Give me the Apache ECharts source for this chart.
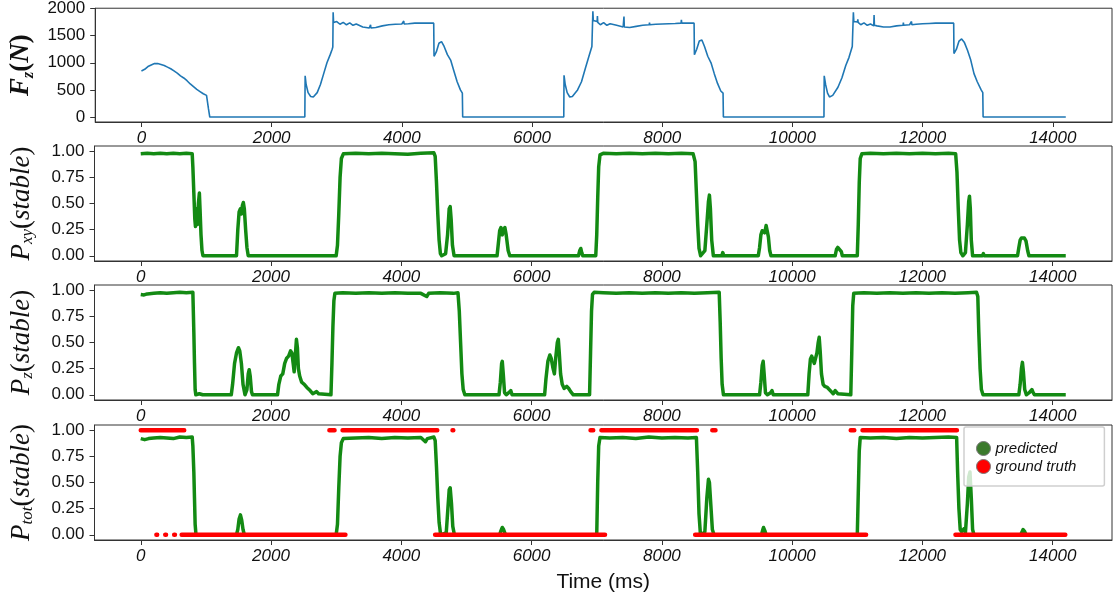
<!DOCTYPE html>
<html>
<head>
<meta charset="utf-8">
<script src="https://cdn.jsdelivr.net/npm/echarts@6/dist/echarts.min.js"></script>
<style>html,body{margin:0;padding:0;background:#fff}#c{width:1120px;height:604px}</style>
</head>
<body>
<div id="c"></div>
<script>
// ---------- data (time in ms) ----------
const xTicks = [0,2000,4000,6000,8000,10000,12000,14000];
const fzTicks = [0,500,1000,1500,2000];
const pTicks = [0,0.25,0.5,0.75,1];

const fzData = [
[0,850],[50,880],[100,930],[150,960],[200,985],[250,985],[300,970],[350,950],[400,920],[450,890],[500,850],[550,810],[600,760],[650,720],[700,670],[750,610],[800,560],[850,510],[900,470],[950,430],[980,420],[1000,400],[1010,380],[1030,150],[1050,0],
[2510,0],[2515,760],[2530,600],[2560,450],[2600,380],[2640,370],[2700,450],[2750,600],[2800,800],[2850,1000],[2900,1150],[2930,1250],[2940,1290],[2945,1930],[2952,1740],[3000,1760],[3050,1710],[3100,1745],[3150,1700],[3200,1735],[3250,1690],[3300,1715],[3400,1660],[3500,1640],[3520,1700],[3525,1640],[3600,1650],[3700,1680],[3800,1700],[3900,1710],[4000,1715],[4030,1770],[4035,1715],[4100,1720],[4200,1730],[4300,1730],[4400,1730],[4490,1730],[4495,1120],[4530,1200],[4570,1360],[4610,1390],[4650,1300],[4700,1150],[4750,1050],[4800,850],[4850,650],[4900,500],[4930,440],[4935,0],
[6488,0],[6492,770],[6510,600],[6540,450],[6580,370],[6620,380],[6700,500],[6760,650],[6820,900],[6870,1100],[6920,1300],[6930,1330],[6935,1950],[6942,1780],[7000,1760],[7005,1860],[7010,1745],[7050,1700],[7100,1740],[7150,1690],[7200,1720],[7300,1690],[7400,1660],[7413,1850],[7418,1660],[7500,1650],[7600,1670],[7700,1690],[7800,1700],[7805,1740],[7810,1700],[7900,1710],[8000,1715],[8100,1720],[8200,1725],[8290,1730],[8295,1790],[8300,1730],[8400,1730],[8490,1730],[8495,1150],[8530,1250],[8570,1400],[8610,1420],[8650,1300],[8700,1120],[8750,1000],[8800,800],[8850,620],[8900,480],[8935,440],[8940,0],
[10485,0],[10489,760],[10510,600],[10540,440],[10570,370],[10620,400],[10700,550],[10760,720],[10820,950],[10870,1100],[10920,1300],[10932,1330],[10937,1930],[10944,1760],[11000,1750],[11005,1800],[11010,1745],[11050,1700],[11100,1735],[11150,1690],[11200,1715],[11250,1680],[11255,1880],[11260,1690],[11300,1680],[11400,1660],[11500,1660],[11600,1680],[11700,1690],[11705,1740],[11710,1690],[11800,1700],[11830,1760],[11835,1700],[11900,1710],[12000,1720],[12100,1725],[12200,1730],[12300,1730],[12400,1730],[12478,1730],[12482,1170],[12520,1250],[12560,1400],[12600,1440],[12640,1380],[12690,1230],[12740,1050],[12790,800],[12840,650],[12900,500],[12925,450],[12930,0],
[14200,0]
];

const pxyData = [
[0,0.975],[100,0.98],[200,0.975],[300,0.98],[400,0.975],[500,0.98],[600,0.975],[700,0.98],[790,0.975],
[800,0.85],[815,0.6],[830,0.35],[840,0.28],[850,0.45],[860,0.38],[870,0.3],[885,0.5],[900,0.6],[910,0.45],[925,0.2],[940,0.05],[955,0],
[1470,0],[1490,0.25],[1510,0.42],[1530,0.45],[1545,0.4],[1560,0.48],[1575,0.51],[1590,0.45],[1610,0.25],[1630,0.08],[1650,0],
[3000,0],[3020,0.1],[3040,0.4],[3060,0.75],[3080,0.93],[3110,0.975],[3130,0.985],[3300,0.98],[3500,0.975],[3700,0.98],[3900,0.975],[4100,0.97],[4300,0.98],[4500,0.985],[4520,0.95],
[4540,0.7],[4560,0.4],[4580,0.15],[4600,0.02],[4620,0],[4680,0.02],[4710,0.2],[4735,0.45],[4750,0.47],[4765,0.35],[4785,0.1],[4810,0],
[5470,0],[5490,0.12],[5510,0.24],[5530,0.27],[5550,0.2],[5570,0.25],[5590,0.27],[5610,0.2],[5640,0.05],[5665,0],
[6720,0],[6740,0.05],[6755,0.07],[6770,0.03],[6785,0],
[6985,0],[7000,0.2],[7015,0.55],[7030,0.85],[7050,0.965],[7100,0.98],[7300,0.975],[7500,0.98],[7700,0.975],[7900,0.98],[8100,0.975],[8300,0.98],[8480,0.975],
[8510,0.9],[8530,0.6],[8550,0.3],[8570,0.07],[8595,0],[8660,0.05],[8690,0.3],[8715,0.52],[8730,0.58],[8745,0.45],[8765,0.15],[8790,0],
[8920,0],[8935,0.03],[8950,0],
[9480,0],[9500,0.08],[9520,0.2],[9540,0.24],[9560,0.25],[9580,0.22],[9600,0.29],[9615,0.3],[9635,0.18],[9655,0.05],[9675,0],
[10660,0],[10680,0.06],[10700,0.08],[10730,0.08],[10755,0.04],[10770,0],
[11000,0],[11015,0.3],[11030,0.7],[11045,0.93],[11070,0.975],[11200,0.98],[11400,0.975],[11600,0.98],[11800,0.975],[12000,0.98],[12200,0.975],[12400,0.98],[12510,0.975],
[12530,0.8],[12550,0.45],[12570,0.15],[12590,0.03],[12620,0],[12660,0.03],[12690,0.3],[12710,0.52],[12722,0.57],[12735,0.45],[12750,0.15],[12770,0],
[12920,0],[12935,0.02],[12950,0],
[13460,0],[13480,0.08],[13500,0.15],[13520,0.17],[13545,0.16],[13565,0.17],[13590,0.14],[13615,0.05],[13635,0],
[14200,0]
];

const pzData = [
[0,0.96],[50,0.955],[100,0.965],[200,0.97],[300,0.975],[400,0.97],[500,0.975],[600,0.98],[700,0.975],[800,0.98],
[815,0.6],[825,0.3],[835,0.05],[845,0],[900,0.01],[950,0],
[1390,0],[1410,0.1],[1440,0.3],[1470,0.4],[1500,0.45],[1520,0.42],[1545,0.3],[1570,0.1],[1600,0],[1630,0.05],[1650,0.2],[1665,0.24],[1680,0.18],[1700,0.03],[1715,0],
[2100,0],[2120,0.1],[2150,0.18],[2180,0.2],[2210,0.3],[2240,0.35],[2270,0.37],[2300,0.42],[2320,0.4],[2340,0.3],[2355,0.22],[2370,0.35],[2390,0.53],[2405,0.45],[2420,0.25],[2440,0.18],[2470,0.12],[2510,0.1],[2550,0.07],[2600,0.04],[2640,0.01],[2670,0],[2700,0.03],[2730,0.01],[2760,0],
[2920,0],[2935,0.3],[2950,0.65],[2965,0.9],[2980,0.97],[3100,0.975],[3300,0.97],[3500,0.975],[3700,0.97],[3900,0.975],[4100,0.97],[4300,0.97],[4390,0.94],[4420,0.97],[4600,0.975],[4800,0.97],[4870,0.975],
[4890,0.8],[4910,0.5],[4930,0.2],[4950,0.05],[4975,0],
[5500,0],[5520,0.12],[5540,0.3],[5550,0.32],[5565,0.2],[5585,0.02],[5610,0],[5650,0.02],[5680,0.04],[5700,0],
[6200,0],[6220,0.15],[6250,0.32],[6280,0.38],[6300,0.35],[6330,0.25],[6350,0.2],[6370,0.35],[6395,0.5],[6410,0.53],[6425,0.4],[6445,0.2],[6470,0.1],[6500,0.06],[6540,0.08],[6570,0.06],[6600,0.03],[6640,0],
[6890,0],[6905,0.4],[6920,0.8],[6935,0.96],[6960,0.98],[7100,0.975],[7300,0.97],[7500,0.975],[7700,0.97],[7900,0.975],[8100,0.97],[8300,0.975],[8500,0.97],[8700,0.975],[8880,0.98],
[8895,0.7],[8910,0.35],[8925,0.1],[8945,0],
[9500,0],[9520,0.12],[9540,0.28],[9555,0.32],[9570,0.2],[9590,0.02],[9620,0],[9670,0.02],[9690,0.04],[9710,0],
[10240,0],[10260,0.2],[10280,0.34],[10300,0.37],[10320,0.38],[10340,0.3],[10360,0.35],[10380,0.4],[10400,0.5],[10415,0.55],[10430,0.42],[10450,0.2],[10475,0.1],[10500,0.08],[10540,0.07],[10570,0.06],[10600,0.03],[10630,0.01],[10660,0.04],[10680,0.05],[10700,0.01],[10720,0],
[10900,0],[10915,0.4],[10930,0.85],[10945,0.97],[11100,0.975],[11300,0.97],[11500,0.975],[11700,0.97],[11900,0.975],[12100,0.97],[12300,0.975],[12500,0.97],[12700,0.975],[12830,0.98],[12850,0.94],
[12865,0.6],[12885,0.25],[12905,0.05],[12930,0],
[13480,0],[13500,0.1],[13520,0.25],[13535,0.31],[13550,0.22],[13570,0.05],[13595,0],[13640,0.02],[13680,0.05],[13700,0.02],[13720,0],
[14200,0]
];

const ptotData = [
[0,0.92],[60,0.91],[120,0.92],[200,0.925],[300,0.93],[400,0.925],[500,0.92],[600,0.935],[700,0.93],[790,0.935],
[800,0.85],[815,0.6],[825,0.35],[835,0.1],[848,0],
[1470,0],[1490,0.05],[1510,0.15],[1530,0.19],[1550,0.14],[1570,0.05],[1590,0],
[3000,0],[3020,0.1],[3040,0.45],[3060,0.75],[3080,0.88],[3110,0.92],[3300,0.925],[3500,0.93],[3700,0.92],[3900,0.93],[4100,0.925],[4300,0.93],[4370,0.89],[4400,0.92],[4500,0.935],[4520,0.9],
[4540,0.65],[4560,0.35],[4580,0.12],[4600,0.02],[4620,0],[4690,0.02],[4715,0.25],[4735,0.43],[4750,0.45],[4770,0.3],[4790,0.08],[4815,0],
[5510,0],[5530,0.04],[5550,0.07],[5570,0.05],[5600,0],
[7000,0],[7015,0.5],[7030,0.85],[7050,0.93],[7200,0.925],[7400,0.93],[7600,0.92],[7800,0.935],[8000,0.925],[8200,0.93],[8400,0.925],[8530,0.93],
[8550,0.6],[8570,0.2],[8590,0.02],[8610,0],[8660,0.03],[8690,0.35],[8715,0.53],[8730,0.5],[8750,0.3],[8775,0.05],[8800,0],
[9530,0],[9550,0.05],[9560,0.07],[9580,0.04],[9600,0],
[11000,0],[11015,0.4],[11030,0.8],[11045,0.93],[11200,0.925],[11400,0.93],[11600,0.92],[11800,0.93],[12000,0.925],[12200,0.93],[12400,0.935],[12525,0.93],
[12540,0.6],[12560,0.25],[12580,0.05],[12600,0.03],[12640,0.06],[12660,0.02],[12690,0.3],[12710,0.55],[12730,0.6],[12750,0.35],[12770,0.05],[12790,0],
[13510,0],[13530,0.03],[13545,0.05],[13570,0.03],[13590,0],
[14200,0]
];

// ground truth segments [start, end] at value 1 (stable) and 0 (unstable)
const gtStable = [[0,667],[2896,2975],[3098,4552],[4786,4798],[6694,6704],[6905,6946],[7072,8538],[8774,8823],[10713,10723],[10899,10954],[11080,12529]];
const gtUnstable = [[240,252],[376,388],[513,525],[628,3142],[4519,7127],[8511,11135],[12507,14193]];

// ---------- chart ----------
function segData(segs, v){
  const out = [];
  segs.forEach(s => { out.push([s[0], v]); out.push([s[1], v]); out.push([s[1], '-']); });
  return out;
}
const gtData = segData(gtStable, 1).concat(segData(gtUnstable, 0));

const tops = [7, 146, 285, 425];
const H = 115;
const tickFont = {fontFamily:'Liberation Sans', fontSize:17, color:'#111'};
const serif = 'Liberation Serif';

const names = [
  '{fb|F}{sb|z}{pb|(}{fb|N}{pb|)}',
  '{f|P}{s|xy}{p|(}{f|stable}{p|)}',
  '{f|P}{s|z}{p|(}{f|stable}{p|)}',
  '{f|P}{s|tot}{p|(}{f|stable}{p|)}'
];
const rich = {
  f:{fontFamily:serif, fontStyle:'italic', fontSize:27, lineHeight:30, color:'#111'},
  s:{fontFamily:serif, fontStyle:'italic', fontSize:17, lineHeight:14, verticalAlign:'bottom', color:'#111'},
  p:{fontFamily:serif, fontSize:27, lineHeight:30, color:'#111'},
  fb:{fontFamily:serif, fontStyle:'italic', fontWeight:'bold', fontSize:27, lineHeight:30, color:'#111'},
  sb:{fontFamily:serif, fontStyle:'italic', fontWeight:'bold', fontSize:16, lineHeight:14, verticalAlign:'bottom', color:'#111'},
  pb:{fontFamily:serif, fontWeight:'bold', fontSize:27, lineHeight:30, color:'#111'}
};

const grid = [], xAxis = [], yAxis = [];
for (let i = 0; i < 4; i++) {
  grid.push({left:94, width:1018, top:tops[i], height:H, show:true, borderColor:'#333', borderWidth:1, backgroundColor:'transparent'});
  xAxis.push({
    type:'value', gridIndex:i, min:-710, max:14910,
    axisLine:{show:true, onZero:false, lineStyle:{color:'#333', width:1}}, splitLine:{show:false},
    axisTick:{show:true, customValues:xTicks, length:5, lineStyle:{color:'#333'}},
    axisLabel:Object.assign({customValues:xTicks, fontStyle:'italic', margin:8, formatter: v => String(v)}, tickFont),
    name: i === 3 ? 'Time (ms)' : '', nameLocation:'middle', nameGap:32,
    nameTextStyle:{fontFamily:'Liberation Sans', fontSize:21, color:'#111'}
  });
  const isF = i === 0;
  yAxis.push({
    type:'value', gridIndex:i,
    min: isF ? -91 : -0.05, max: isF ? 2005 : 1.05,
    axisLine:{show:true, onZero:false, lineStyle:{color:'#333', width:1}}, splitLine:{show:false},
    axisTick:{show:true, customValues: isF ? fzTicks : pTicks, length:5, lineStyle:{color:'#333'}},
    axisLabel:Object.assign({customValues: isF ? fzTicks : pTicks, margin:10, padding:[5,0,0,0],
      formatter: v => isF ? String(v) : v.toFixed(2)}, tickFont),
    name:names[i], nameLocation:'middle', nameRotate:90, nameGap:58,
    nameTextStyle:{rich:rich}
  });
}

const green = '#138a13';
const option = {
  animation:false,
  backgroundColor:'#fff',
  grid:grid, xAxis:xAxis, yAxis:yAxis,
  legend:{
    left:964, top:427, orient:'vertical',
    padding:[14,28,12,12], itemGap:3, itemWidth:14, itemHeight:14, itemTextGap:6,
    icon:'circle',
    borderColor:'#cfcfcf', borderWidth:1.5, borderRadius:2,
    backgroundColor:'rgba(255,255,255,0.8)',
    textStyle:{fontFamily:'Liberation Sans', fontStyle:'italic', fontSize:15, color:'#111'},
    data:[
      {name:'predicted', itemStyle:{color:'#3b7a2c', borderColor:'#777', borderWidth:1}},
      {name:'ground truth', itemStyle:{color:'#ff0000', borderColor:'#777', borderWidth:1}}
    ]
  },
  series:[
    {type:'line', name:'Fz', xAxisIndex:0, yAxisIndex:0, data:fzData, showSymbol:false, symbol:'none',
      lineStyle:{color:'#1f77b4', width:1.6}, itemStyle:{color:'#1f77b4'}},
    {type:'line', name:'Pxy', xAxisIndex:1, yAxisIndex:1, data:pxyData, symbol:'none',
      lineStyle:{color:green, width:3.5, join:'round'}, itemStyle:{color:green}},
    {type:'line', name:'Pz', xAxisIndex:2, yAxisIndex:2, data:pzData, symbol:'none',
      lineStyle:{color:green, width:3.5, join:'round'}, itemStyle:{color:green}},
    {type:'line', name:'predicted', xAxisIndex:3, yAxisIndex:3, data:ptotData, symbol:'none',
      lineStyle:{color:green, width:3.5, join:'round'}, itemStyle:{color:green}},
    {type:'line', name:'ground truth', xAxisIndex:3, yAxisIndex:3, data:gtData, symbol:'none', connectNulls:false, z:3,
      lineStyle:{color:'#ff0000', width:4.5, cap:'round'}, itemStyle:{color:'#ff0000'}}
  ]
};
const chart = echarts.init(document.getElementById('c'), null, {renderer:'canvas'});
chart.setOption(option);
</script>
</body>
</html>
